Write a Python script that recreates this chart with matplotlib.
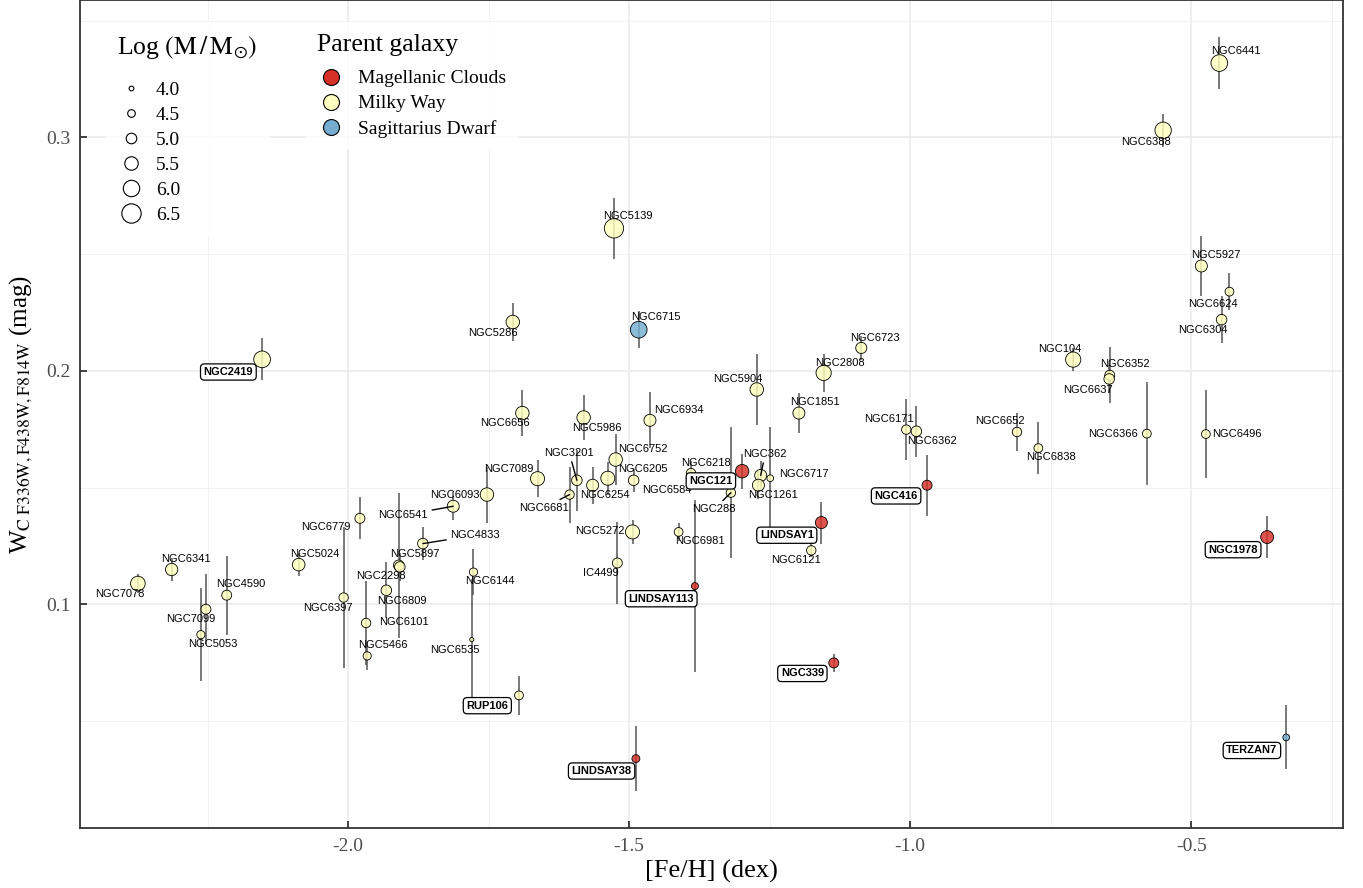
import matplotlib
matplotlib.use("Agg")
import matplotlib.pyplot as plt
from matplotlib.lines import Line2D
from matplotlib.colors import to_rgba

plt.rcParams['font.family'] = ['Liberation Serif', 'DejaVu Serif']
plt.rcParams['mathtext.fontset'] = 'stix'

# cluster, parent galaxy (MC / MW / SGR), [Fe/H], W_C index, its error, log mass
names = ['NGC6441', 'NGC6388', 'NGC5927', 'NGC6624', 'NGC6304', 'NGC7078', 'NGC6341',
         'NGC7099', 'NGC5053', 'NGC4590', 'NGC5024', 'NGC6397', 'NGC6779', 'NGC5897',
         'NGC6809', 'NGC2298', 'NGC6101', 'NGC5466', 'NGC4833', 'NGC6144', 'NGC6535',
         'RUP106', 'IC4499', 'NGC6656', 'NGC5986', 'NGC6934', 'NGC6752', 'NGC7089',
         'NGC3201', 'NGC6254', 'NGC6205', 'NGC6584', 'NGC6681', 'NGC6093', 'NGC6541',
         'NGC5272', 'NGC6981', 'NGC6218', 'NGC288', 'NGC362', 'NGC1261', 'NGC6717',
         'NGC5904', 'NGC6723', 'NGC2808', 'NGC1851', 'NGC6171', 'NGC6362', 'NGC6652',
         'NGC6838', 'NGC104', 'NGC6352', 'NGC6637', 'NGC6366', 'NGC6496', 'NGC2419',
         'NGC5286', 'NGC5139', 'NGC6121',
         'NGC121', 'LINDSAY1', 'LINDSAY113', 'NGC416', 'NGC1978', 'NGC339', 'LINDSAY38',
         'NGC6715', 'TERZAN7']
galaxy = ['MW'] * 59 + ['MC'] * 7 + ['SGR'] * 2
feh = [-0.450, -0.550, -0.482, -0.432, -0.446, -2.374, -2.314,
       -2.253, -2.262, -2.216, -2.088, -2.008, -1.979, -1.910,
       -1.908, -1.932, -1.968, -1.966, -1.867, -1.777, -1.780,
       -1.696, -1.521, -1.690, -1.581, -1.463, -1.524, -1.663,
       -1.593, -1.565, -1.538, -1.492, -1.606, -1.753, -1.813,
       -1.494, -1.412, -1.390, -1.319, -1.266, -1.270, -1.249,
       -1.273, -1.087, -1.154, -1.198, -1.007, -0.989, -0.810,
       -0.772, -0.710, -0.645, -0.646, -0.579, -0.474, -2.153,
       -1.707, -1.527, -1.176,
       -1.299, -1.158, -1.383, -0.970, -0.365, -1.136, -1.488,
       -1.483, -0.331]
wc = [0.3318, 0.3030, 0.2449, 0.2339, 0.2219, 0.1089, 0.1149,
      0.0979, 0.0870, 0.1039, 0.1170, 0.1029, 0.1368, 0.1167,
      0.1160, 0.1060, 0.0920, 0.0779, 0.1260, 0.1138, 0.0849,
      0.0610, 0.1177, 0.1819, 0.1800, 0.1788, 0.1620, 0.1538,
      0.1531, 0.1510, 0.1540, 0.1531, 0.1470, 0.1470, 0.1420,
      0.1310, 0.1310, 0.1562, 0.1478, 0.1552, 0.1510, 0.1540,
      0.1920, 0.2098, 0.1991, 0.1819, 0.1748, 0.1741, 0.1738,
      0.1669, 0.2048, 0.1981, 0.1965, 0.1731, 0.1729, 0.2049,
      0.2209, 0.2610, 0.1231,
      0.1570, 0.1350, 0.1078, 0.1510, 0.1288, 0.0749, 0.0339,
      0.2176, 0.0430]
wc_err = [0.011, 0.007, 0.013, 0.008, 0.010, 0.004, 0.005,
          0.015, 0.020, 0.017, 0.005, 0.030, 0.009, 0.031,
          0.006, 0.012, 0.018, 0.006, 0.007, 0.010, 0.026,
          0.0085, 0.0175, 0.010, 0.0095, 0.012, 0.011, 0.008,
          0.013, 0.008, 0.007, 0.005, 0.012, 0.012, 0.006,
          0.005, 0.004, 0.005, 0.028, 0.006, 0.006, 0.022,
          0.015, 0.005, 0.008, 0.0087, 0.013, 0.011, 0.008,
          0.011, 0.005, 0.012, 0.006, 0.022, 0.019, 0.009,
          0.008, 0.013, 0.003,
          0.0075, 0.009, 0.037, 0.013, 0.009, 0.004, 0.014,
          0.0078, 0.0137]
logm = [6.05, 6.0, 5.25, 4.7, 5.0, 5.7, 5.3,
        4.9, 4.6, 4.9, 5.35, 4.8, 4.9, 5.0,
        5.0, 5.0, 4.8, 4.6, 5.0, 4.6, 3.9,
        4.7, 4.9, 5.5, 5.5, 5.25, 5.5, 5.6,
        5.0, 5.25, 5.6, 5.0, 4.8, 5.5, 5.25,
        5.6, 4.7, 4.8, 4.8, 5.25, 5.25, 4.35,
        5.5, 5.1, 5.8, 5.25, 4.8, 5.0, 4.8,
        4.7, 5.8, 4.9, 5.0, 4.7, 4.7, 6.05,
        5.5, 6.5, 4.8,
        5.5, 5.25, 4.4, 4.9, 5.4, 4.9, 4.55,
        6.05, 4.35]
boxed = ['NGC2419', 'RUP106', 'TERZAN7', 'NGC121', 'LINDSAY1', 'LINDSAY113',
         'NGC416', 'NGC1978', 'NGC339', 'LINDSAY38']

galaxy_names = {'MC': 'Magellanic Clouds', 'MW': 'Milky Way', 'SGR': 'Sagittarius Dwarf'}
galaxy_colors = {'MC': '#D73027', 'MW': '#FFFFBF', 'SGR': '#74ADD1'}
size_breaks = [4.0, 4.5, 5.0, 5.5, 6.0, 6.5]

# label offsets from the point, in points (repelled-label layout)
label_offsets = {
    'NGC6441': (11.7, 8.4), 'NGC6388': (-12.2, -8.6), 'NGC5927': (10.1, 7.7),
    'NGC6624': (-12.2, -8.6), 'NGC6304': (-13.4, -7.7), 'NGC7078': (-12.7, -7.7),
    'NGC6341': (10.3, 7.9), 'NGC7099': (-11.0, -7.2), 'NGC5053': (8.6, -7.0),
    'NGC4590': (10.3, 7.9), 'NGC5024': (11.7, 7.9), 'NGC6397': (-11.2, -7.2),
    'NGC6779': (-24.5, -6.5), 'NGC5897': (11.3, 8.4), 'NGC6809': (1.4, -24.5),
    'NGC2298': (-3.6, 10.1), 'NGC6101': (26.9, 0.7), 'NGC5466': (11.5, 7.7),
    'NGC4833': (37.7, 6.0), 'NGC6144': (11.5, -6.7), 'NGC6535': (-12.0, -7.7),
    'RUP106': (-22.8, -7.4), 'IC4499': (-12.0, -6.9), 'NGC6656': (-12.5, -7.2),
    'NGC5986': (9.8, -7.2), 'NGC6934': (21.1, 7.7), 'NGC6752': (19.7, 7.9),
    'NGC7089': (-20.9, 7.2), 'NGC3201': (-5.5, 19.9), 'NGC6254': (8.9, -7.2),
    'NGC6205': (25.2, 6.5), 'NGC6584': (23.8, -7.2), 'NGC6681': (-18.7, -9.6),
    'NGC6093': (-22.8, -0.5), 'NGC6541': (-36.0, -6.5), 'NGC5272': (-23.3, 0.5),
    'NGC6981': (15.3, -6.7), 'NGC6218': (10.6, 7.2), 'NGC288': (-12.2, -12.0),
    'NGC362': (3.3, 15.6), 'NGC1261': (10.8, -7.2), 'NGC6717': (24.0, 2.9),
    'NGC5904': (-13.4, 7.4), 'NGC6723': (10.0, 7.5), 'NGC2808': (12.0, 6.8),
    'NGC1851': (11.2, 7.7), 'NGC6171': (-12.7, 7.4), 'NGC6362': (11.5, -7.2),
    'NGC6652': (-12.5, 7.9), 'NGC6838': (9.4, -6.5), 'NGC104': (-10.0, 7.4),
    'NGC6352': (10.8, 7.9), 'NGC6637': (-15.6, -8.1), 'NGC6366': (-24.0, 0.0),
    'NGC6496': (22.1, 0.0), 'NGC2419': (-24.3, -9.1), 'NGC5286': (-14.0, -7.9),
    'NGC5139': (10.0, 8.6), 'NGC6121': (-11.0, -7.2), 'NGC121': (-22.5, -7.0),
    'LINDSAY1': (-24.9, -9.1), 'LINDSAY113': (-24.3, -9.1), 'NGC416': (-22.3, -7.7),
    'NGC1978': (-24.5, -9.1), 'NGC339': (-22.6, -7.6), 'LINDSAY38': (-24.7, -8.9),
    'NGC6715': (12.5, 8.9), 'TERZAN7': (-24.7, -9.4),
}
with_segment = ['NGC4833', 'NGC3201', 'NGC6681', 'NGC6541', 'NGC288', 'NGC362']


def marker_diam(m):
    # marker diameter in points for a given log mass
    return 0.72 * (4.7 + 5.85 * (m - 4.0))


fig = plt.figure(figsize=(13.63, 8.88), dpi=100)
ax = fig.add_axes([80 / 1363, 60 / 888, 1263 / 1363, 828 / 888])

lo = [w - e for w, e in zip(wc, wc_err)]
hi = [w + e for w, e in zip(wc, wc_err)]
ax.vlines(feh, lo, hi, color='#555555', lw=1.1, zorder=2)

for key in ['MC', 'MW', 'SGR']:
    idx = [i for i, g in enumerate(galaxy) if g == key]
    ax.scatter([feh[i] for i in idx], [wc[i] for i in idx],
               s=[marker_diam(logm[i]) ** 2 for i in idx],
               facecolor=to_rgba(galaxy_colors[key], 0.82), edgecolor='black',
               linewidth=0.6, zorder=3)

for i, name in enumerate(names):
    dx, dy = label_offsets[name]
    kw = dict(xy=(feh[i], wc[i]), xytext=(dx, dy), textcoords='offset points',
              ha='center', va='center', fontsize=8, family='Liberation Sans',
              zorder=5)
    if name in boxed:
        kw['fontweight'] = 'bold'
        kw['bbox'] = dict(boxstyle='round,pad=0.28,rounding_size=0.35',
                          fc='white', ec='black', lw=0.9)
    if name in with_segment:
        kw['arrowprops'] = dict(arrowstyle='-', color='black', lw=1.0,
                                shrinkA=1, shrinkB=0)
    ax.annotate(name, **kw)

ax.set_xlim(-2.477, -0.230)
ax.set_ylim(0.0042, 0.3588)
ax.set_xticks([-2.0, -1.5, -1.0, -0.5])
ax.set_xticklabels(['-2.0', '-1.5', '-1.0', '-0.5'])
ax.set_xticks([-2.25, -1.75, -1.25, -0.75, -0.25], minor=True)
ax.set_yticks([0.1, 0.2, 0.3])
ax.set_yticklabels(['0.1', '0.2', '0.3'])
ax.set_yticks([0.05, 0.15, 0.25, 0.35], minor=True)

ax.set_axisbelow(True)
ax.grid(which='major', color='#EBEBEB', lw=1.2)
ax.grid(which='minor', color='#F2F2F2', lw=0.7)
for sp in ax.spines.values():
    sp.set_linewidth(1.3)
    sp.set_color('#333333')
ax.tick_params(which='major', direction='in', length=5, width=1.3, color='#333333',
               labelsize=14, labelcolor='#4D4D4D', pad=7)
ax.tick_params(which='minor', length=0)

ax.set_xlabel('[Fe/H] (dex)', fontsize=19, labelpad=4)
ax.set_ylabel(r'W$_{\mathrm{C\ F336W,F438W,F814W}}$ (mag)', fontsize=18, labelpad=8)

# size legend
size_handles = [Line2D([], [], ls='', marker='o', mfc='white', mec='black', mew=0.8,
                       ms=marker_diam(v)) for v in size_breaks]
leg1 = ax.legend(size_handles, ['%.1f' % v for v in size_breaks],
                 title=r'Log $\left(\mathrm{M}\,/\,\mathrm{M}_{\odot}\right)$',
                 loc='upper left', bbox_to_anchor=(0.0125, 0.985), frameon=True,
                 fontsize=14, title_fontsize=18.5, labelspacing=0.38,
                 handletextpad=0.6, handlelength=1.4, borderpad=0.6,
                 alignment='left', fancybox=False)
leg1.get_frame().set_edgecolor('none')
leg1.get_frame().set_facecolor('white')
leg1._legend_box.sep = 15
leg1.set_zorder(6)
ax.add_artist(leg1)

# parent galaxy legend
col_handles = [Line2D([], [], ls='', marker='o', mfc=galaxy_colors[k], mec='black',
                      mew=0.8, ms=11.5) for k in ['MC', 'MW', 'SGR']]
leg2 = ax.legend(col_handles, [galaxy_names[k] for k in ['MC', 'MW', 'SGR']],
                 title='Parent galaxy', loc='upper left',
                 bbox_to_anchor=(0.1709, 0.985), frameon=True, fontsize=14,
                 title_fontsize=18.5, labelspacing=0.38, handletextpad=0.7,
                 handlelength=1.4, borderpad=0.6, alignment='left', fancybox=False)
leg2.get_frame().set_edgecolor('none')
leg2.get_frame().set_facecolor('white')
leg2._legend_box.sep = 10
leg2.set_zorder(6)

fig.savefig('out.png', dpi=100)
